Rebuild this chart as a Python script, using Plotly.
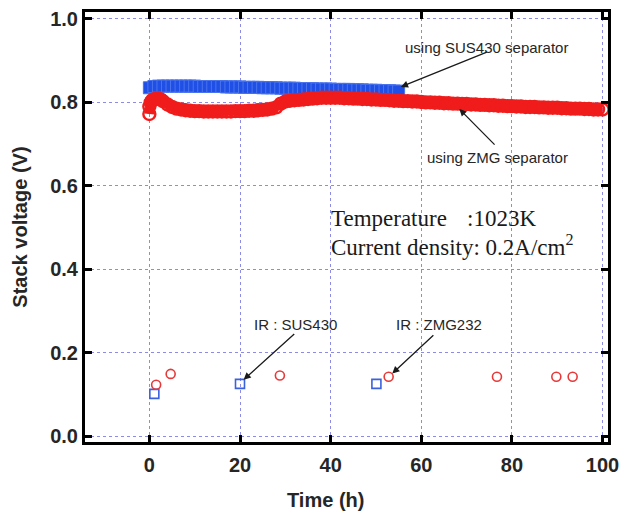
import plotly.graph_objects as go

# ZMG separator stack voltage (V) vs time (h)
zmg_time = [0, 0, 0.3, 0.6, 1, 1.5, 2, 2.5, 3, 4, 5, 6, 7, 8, 9, 10,
            11, 12, 13, 14, 15, 16, 17, 18, 19, 20, 21, 22, 23, 24, 25,
            26, 27, 28, 29, 30, 31, 32, 33, 34, 35, 36, 37, 38, 39, 40,
            41, 42, 43, 44, 45, 46, 47, 48, 49, 50, 51, 52, 53, 54, 55,
            56, 57, 58, 59, 60, 61, 62, 63, 64, 65, 66, 67, 68, 69, 70,
            71, 72, 73, 74, 75, 76, 77, 78, 79, 80, 81, 82, 83, 84, 85,
            86, 87, 88, 89, 90, 91, 92, 93, 94, 95, 96, 97, 98, 99, 100]
zmg_voltage = [0.772, 0.790, 0.800, 0.805, 0.807, 0.809, 0.809, 0.807, 0.803,
               0.795, 0.789, 0.785, 0.783, 0.781, 0.780, 0.779,
               0.779, 0.778, 0.778, 0.778, 0.778, 0.778, 0.778, 0.778, 0.779,
               0.779, 0.779, 0.780, 0.780, 0.781, 0.782,
               0.783, 0.785, 0.788, 0.797, 0.802, 0.804, 0.805, 0.806, 0.807,
               0.808, 0.809, 0.810, 0.811, 0.811, 0.811,
               0.811, 0.811, 0.810, 0.810, 0.809, 0.809, 0.808, 0.808, 0.807,
               0.807, 0.806, 0.806, 0.805, 0.804, 0.804,
               0.803, 0.803, 0.802, 0.802, 0.801, 0.800, 0.800, 0.799, 0.799,
               0.798, 0.798, 0.797, 0.797, 0.796, 0.796,
               0.795, 0.795, 0.794, 0.794, 0.793, 0.793, 0.792, 0.792, 0.791,
               0.791, 0.790, 0.790, 0.789, 0.789, 0.789,
               0.788, 0.788, 0.787, 0.787, 0.787, 0.786, 0.786, 0.785, 0.785,
               0.785, 0.784, 0.784, 0.783, 0.783, 0.783]

# SUS430 separator stack voltage (V) vs time (h)
sus_time = list(range(0, 56))
sus_voltage = [0.835, 0.838, 0.839, 0.839, 0.839, 0.839, 0.839, 0.839, 0.839,
               0.839, 0.839, 0.838, 0.838, 0.838, 0.838, 0.838, 0.838, 0.837,
               0.837, 0.837, 0.837, 0.836, 0.836, 0.836, 0.836, 0.835, 0.835,
               0.835, 0.835, 0.834, 0.834, 0.834, 0.834, 0.833, 0.833, 0.833,
               0.833, 0.832, 0.832, 0.832, 0.832, 0.831, 0.831, 0.831, 0.831,
               0.830, 0.830, 0.830, 0.829, 0.829, 0.829, 0.828, 0.828, 0.828,
               0.827, 0.827]

# IR drop measurements
ir_sus_time = [1.1, 20.0, 50.1]
ir_sus_value = [0.101, 0.125, 0.125]
ir_zmg_time = [1.5, 4.7, 28.8, 52.8, 76.7, 89.8, 93.4]
ir_zmg_value = [0.123, 0.149, 0.145, 0.142, 0.142, 0.142, 0.142]

x_ticks = [0, 20, 40, 60, 80, 100]
y_ticks = [0.0, 0.2, 0.4, 0.6, 0.8, 1.0]
y_tick_text = ["0.0", "0.2", "0.4", "0.6", "0.8", "1.0"]

RED = "#f01c1c"
BLUE = "#1f4fe4"
GRID = "#8c8ce6"
TEXT = "#262626"

fig = go.Figure()

# SUS430 band: dense filled squares
fig.add_trace(go.Scatter(
    x=sus_time, y=sus_voltage, mode="lines",
    line=dict(color=BLUE, width=12), hoverinfo="skip"))
fig.add_trace(go.Scatter(
    x=sus_time, y=sus_voltage, mode="markers",
    marker=dict(symbol="square", size=12, color=BLUE,
                line=dict(color="#4a74ee", width=1))))

# ZMG band: dense open circles
fig.add_trace(go.Scatter(
    x=zmg_time, y=zmg_voltage, mode="lines",
    line=dict(color=RED, width=10), hoverinfo="skip"))
fig.add_trace(go.Scatter(
    x=zmg_time, y=zmg_voltage, mode="markers",
    marker=dict(symbol="circle-open", size=12, color=RED,
                line=dict(color=RED, width=2.4))))

# IR points
fig.add_trace(go.Scatter(
    x=ir_sus_time, y=ir_sus_value, mode="markers",
    marker=dict(symbol="square-open", size=9, color="#3a62de",
                line=dict(color="#3a62de", width=1.6))))
fig.add_trace(go.Scatter(
    x=ir_zmg_time, y=ir_zmg_value, mode="markers",
    marker=dict(symbol="circle-open", size=9, color="#e63a3a",
                line=dict(color="#e63a3a", width=1.6))))

label_font = dict(family="Liberation Sans, Arial", size=15, color=TEXT)
serif_font = dict(family="Liberation Serif, Times New Roman", size=23, color="#1a1a1a")

annotations = []

# arrows (tail -> head) in data coordinates
arrows = [
    ((74.8, 0.922), (55.5, 0.837)),
    ((76.5, 0.695), (68.4, 0.784)),
    ((32.3, 0.248), (20.8, 0.135)),
    ((63.0, 0.245), (53.6, 0.150)),
]
for (tx, ty), (hx, hy) in arrows:
    annotations.append(dict(
        x=hx, y=hy, ax=tx, ay=ty, xref="x", yref="y", axref="x", ayref="y",
        text="", showarrow=True, arrowhead=2, arrowsize=1.1, arrowwidth=1.3,
        arrowcolor="#1a1a1a"))

labels = [
    ("using SUS430 separator", 74.3, 0.931),
    ("using ZMG separator", 76.9, 0.667),
    ("IR : SUS430", 32.3, 0.268),
    ("IR : ZMG232", 63.8, 0.268),
]
for txt, lx, ly in labels:
    annotations.append(dict(x=lx, y=ly, xref="x", yref="y", text=txt,
                            showarrow=False, font=label_font,
                            xanchor="center", yanchor="middle"))

annotations += [
    dict(x=39.6, y=0.521, xref="x", yref="y", text="Temperature",
         showarrow=False, font=serif_font, xanchor="left", yanchor="middle"),
    dict(x=69.6, y=0.521, xref="x", yref="y", text=":1023K",
         showarrow=False, font=serif_font, xanchor="left", yanchor="middle"),
    dict(x=39.6, y=0.456, xref="x", yref="y",
         text="Current density: 0.2A/cm<sup>2</sup>",
         showarrow=False, font=serif_font, xanchor="left", yanchor="middle"),
]

axis_title_font = dict(family="Liberation Sans, Arial", size=20, color=TEXT, weight="bold")
annotations += [
    dict(x=-0.125, y=0.5, xref="paper", yref="paper", text="Stack voltage (V)",
         textangle=-90, showarrow=False, font=axis_title_font,
         xanchor="center", yanchor="middle"),
    dict(x=0.460, y=-0.134, xref="paper", yref="paper", text="Time (h)",
         showarrow=False, font=axis_title_font,
         xanchor="center", yanchor="middle"),
]

tick_font = dict(family="Liberation Sans, Arial", size=20, color=TEXT, weight="bold")
axis_common = dict(
    showline=True, linewidth=3, linecolor="black", mirror="allticks",
    ticks="inside", ticklen=7, tickwidth=2.5, tickcolor="black",
    showgrid=True, gridcolor=GRID, gridwidth=1, griddash="dot",
    zeroline=False, tickfont=tick_font,
)

fig.update_layout(
    width=627, height=515,
    margin=dict(l=85, r=14, t=8, b=73),
    paper_bgcolor="white", plot_bgcolor="white",
    showlegend=False,
    annotations=annotations,
    xaxis=dict(range=[-14.2, 101.2], tickvals=x_ticks, ticklabelstandoff=3,
               **axis_common),
    yaxis=dict(range=[-0.0143, 1.0166], tickvals=y_ticks, ticktext=y_tick_text,
               ticklabelstandoff=0, **axis_common),
)

fig.write_html("out.html")
